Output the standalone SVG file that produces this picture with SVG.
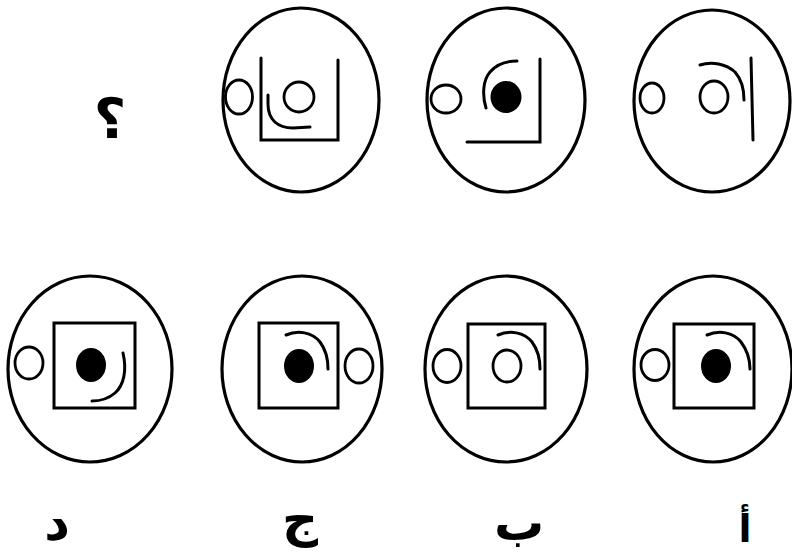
<svg xmlns="http://www.w3.org/2000/svg" width="792" height="554" viewBox="0 0 792 554">
<style>
.o{fill:none;stroke:#000;stroke-width:3.2}
.i{fill:none;stroke:#000;stroke-width:2.8}
.f{fill:#000;stroke:none}
.l{fill:none;stroke:#000;stroke-width:3;stroke-linecap:round}
.t{font-family:"DejaVu Sans",sans-serif;font-weight:bold;fill:#000;text-anchor:middle}
</style>
<rect width="792" height="554" fill="#fff"/>
<g id="q1">
<ellipse class="o" cx="301" cy="100" rx="78" ry="92"/>
<ellipse class="i" cx="239" cy="97" rx="13.5" ry="17"/>
<path class="l" d="M261,58 V140 H338 V60"/>
<ellipse class="i" cx="299" cy="97" rx="15" ry="15"/>
<path class="l" d="M268,95 V104 C268,120 278,128 293,128 L310,127"/>
</g>
<g id="q2">
<ellipse class="o" cx="506" cy="100" rx="79" ry="92"/>
<ellipse class="i" cx="446" cy="99" rx="15" ry="14"/>
<ellipse class="f" cx="506" cy="97" rx="15.5" ry="16"/>
<path class="l" d="M486,108 C482,95 483,80 490,72 C496,65 505,61 517,61"/>
<path class="l" d="M540,59 V142 H467"/>
</g>
<g id="q3">
<ellipse class="o" cx="712" cy="101" rx="78" ry="91"/>
<ellipse class="i" cx="652" cy="98" rx="12" ry="15"/>
<ellipse class="i" cx="714" cy="97" rx="14" ry="16"/>
<path class="l" d="M700,65 C712,61 726,64 735,72 C742,80 744,90 744,100"/>
<path class="l" d="M751,58 L753,140"/>
</g>
<g id="qmark">
<text class="t" x="110" y="138" font-size="56">؟</text>
</g>
<g id="d">
<ellipse class="o" cx="90" cy="369" rx="82" ry="93"/>
<ellipse class="i" cx="29" cy="363" rx="14" ry="16"/>
<rect class="l" x="54" y="323" width="81" height="85"/>
<ellipse class="f" cx="91" cy="365" rx="15" ry="17"/>
<path class="l" d="M123,353 C127,370 124,385 115,393 C108,399 100,401 92,401"/>
</g>
<g id="j">
<ellipse class="o" cx="302" cy="369" rx="80" ry="93"/>
<rect class="l" x="259" y="323" width="79" height="85"/>
<ellipse class="f" cx="299" cy="366" rx="15" ry="17"/>
<path class="l" d="M286,335 C298,330 312,332 320,342 C326,350 328,360 328,369"/>
<ellipse class="i" cx="359" cy="366" rx="14" ry="17"/>
</g>
<g id="b">
<ellipse class="o" cx="506" cy="369" rx="81" ry="93"/>
<ellipse class="i" cx="447" cy="366" rx="14" ry="16.5"/>
<rect class="l" x="468" y="324" width="77" height="84"/>
<ellipse class="i" cx="507" cy="366" rx="14" ry="16"/>
<path class="l" d="M498,335 C510,330 524,332 532,342 C538,350 540,360 540,369"/>
</g>
<g id="a">
<ellipse class="o" cx="713" cy="369" rx="79" ry="93"/>
<ellipse class="i" cx="655" cy="365" rx="14" ry="15.5"/>
<rect class="l" x="674" y="324" width="80" height="84"/>
<ellipse class="f" cx="716" cy="366" rx="15" ry="17"/>
<path class="l" d="M707,335 C719,330 733,332 741,342 C747,350 750,360 750,369"/>
</g>
<g id="labels">
<text class="t" x="57" y="540" font-size="50">د</text>
<text class="t" x="300" y="536" font-size="50">ج</text>
<text class="t" x="519" y="540" font-size="50">ب</text>
<text class="t" x="745" y="542" font-size="38">أ</text>
</g>
</svg>
